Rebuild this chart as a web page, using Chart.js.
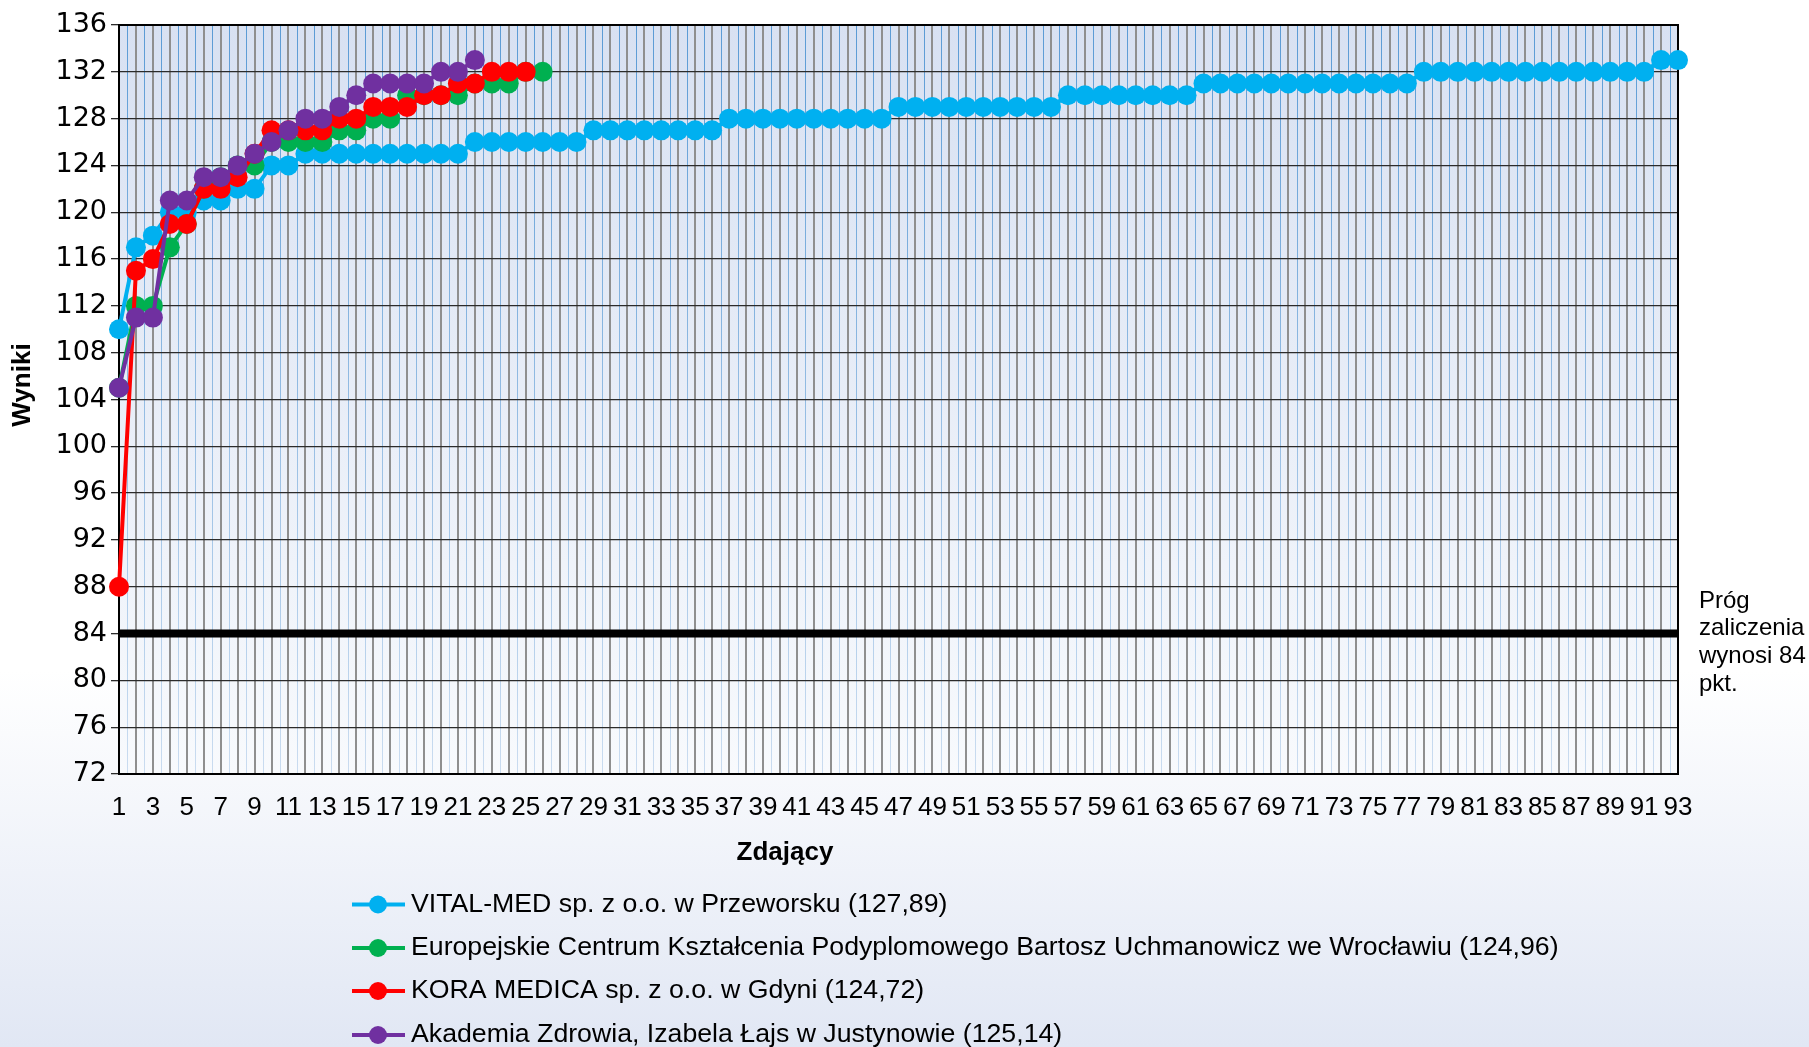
<!DOCTYPE html>
<html lang="pl">
<head>
<meta charset="utf-8">
<script src="https://cdn.jsdelivr.net/npm/chart.js@4.4.1/dist/chart.umd.min.js"></script>
<style>
  html, body { margin: 0; padding: 0; }
  body {
    width: 1809px;
    height: 1047px;
    overflow: hidden;
    background: linear-gradient(to bottom, #ffffff 0%, #ffffff 64%, #e1e7f4 100%);
  }
  canvas { display: block; }
</style>
</head>
<body>
<canvas id="chart" width="1809" height="1047"></canvas>
<script>
// numery zdających (oś X)
const zdajacy = [
  '1', '2', '3', '4', '5', '6', '7', '8', '9', '10',
  '11', '12', '13', '14', '15', '16', '17', '18', '19', '20',
  '21', '22', '23', '24', '25', '26', '27', '28', '29', '30',
  '31', '32', '33', '34', '35', '36', '37', '38', '39', '40',
  '41', '42', '43', '44', '45', '46', '47', '48', '49', '50',
  '51', '52', '53', '54', '55', '56', '57', '58', '59', '60',
  '61', '62', '63', '64', '65', '66', '67', '68', '69', '70',
  '71', '72', '73', '74', '75', '76', '77', '78', '79', '80',
  '81', '82', '83', '84', '85', '86', '87', '88', '89', '90',
  '91', '92', '93',
];

// wyniki poszczególnych ośrodków
const vitalMed = [
  110, 117, 118, 120, 120, 121, 121, 122, 122, 124,
  124, 125, 125, 125, 125, 125, 125, 125, 125, 125,
  125, 126, 126, 126, 126, 126, 126, 126, 127, 127,
  127, 127, 127, 127, 127, 127, 128, 128, 128, 128,
  128, 128, 128, 128, 128, 128, 129, 129, 129, 129,
  129, 129, 129, 129, 129, 129, 130, 130, 130, 130,
  130, 130, 130, 130, 131, 131, 131, 131, 131, 131,
  131, 131, 131, 131, 131, 131, 131, 132, 132, 132,
  132, 132, 132, 132, 132, 132, 132, 132, 132, 132,
  132, 133, 133,
];
const europejskie = [
  105, 112, 112, 117, 119, 122, 123, 124, 124, 126,
  126, 126, 126, 127, 127, 128, 128, 130, 130, 130,
  130, 131, 131, 131, 132, 132,
];
const koraMedica = [
  88, 115, 116, 119, 119, 122, 122, 123, 125, 127,
  127, 127, 127, 128, 128, 129, 129, 129, 130, 130,
  131, 131, 132, 132, 132,
];
const akademia = [
  105, 111, 111, 121, 121, 123, 123, 124, 125, 126,
  127, 128, 128, 129, 130, 131, 131, 131, 131, 132,
  132, 133,
];

const progZaliczenia = 84;
const yTicks = [72, 136, 4]; // min, max, krok

const font = '"Liberation Sans", Arial, sans-serif';

const dodatki = {
  id: 'dodatki',
  beforeDraw(chart) {
    const { ctx, chartArea: a, scales: { x } } = chart;
    ctx.save();
    const tlo = ctx.createLinearGradient(0, a.top, 0, a.bottom);
    tlo.addColorStop(0, '#d8e1f2');
    tlo.addColorStop(1, '#f8fafd');
    ctx.fillStyle = tlo;
    ctx.fillRect(a.left, a.top, a.width, a.height);

    // cienkie niebieskie linie między zdającymi
    const nieb = ctx.createLinearGradient(0, a.top, 0, a.bottom);
    nieb.addColorStop(0, '#5b9bd5');
    nieb.addColorStop(1, '#cadcf0');
    ctx.strokeStyle = nieb;
    ctx.lineWidth = 1;
    for (let i = 0; i < zdajacy.length - 1; i++) {
      const px = Math.round(x.getPixelForValue(i + 0.5)) + 0.5;
      ctx.beginPath();
      ctx.moveTo(px, a.top);
      ctx.lineTo(px, a.bottom);
      ctx.stroke();
    }
    ctx.restore();
  },
  beforeDatasetsDraw(chart) {
    const { ctx, chartArea: a } = chart;
    ctx.save();
    ctx.strokeStyle = '#000';
    ctx.lineWidth = 2;
    ctx.strokeRect(a.left, a.top, a.width, a.height);
    ctx.restore();
  },
  afterDraw(chart) {
    const { ctx } = chart;
    ctx.save();
    ctx.fillStyle = '#000';

    // tytuły osi
    ctx.font = 'bold 26px ' + font;
    ctx.textAlign = 'center';
    ctx.textBaseline = 'middle';
    ctx.fillText('Zdający', 785, 853);
    ctx.save();
    ctx.translate(23, 385);
    ctx.rotate(-Math.PI / 2);
    ctx.fillText('Wyniki', 0, 0);
    ctx.restore();

    // opis progu
    ctx.font = '24px ' + font;
    ctx.textAlign = 'left';
    ['Próg', 'zaliczenia', 'wynosi 84', 'pkt.'].forEach((t, i) => {
      ctx.fillText(t, 1699, 601 + i * 27.7);
    });

    // legenda
    ctx.font = '26.7px ' + font;
    const wiersze = [904.5, 948, 991, 1035];
    chart.data.datasets.filter(d => d.legenda !== false).forEach((ds, i) => {
      const y = wiersze[i];
      ctx.strokeStyle = ds.borderColor;
      ctx.lineWidth = 4;
      ctx.beginPath();
      ctx.moveTo(352, y);
      ctx.lineTo(405, y);
      ctx.stroke();
      ctx.fillStyle = ds.borderColor;
      ctx.beginPath();
      ctx.arc(378, y, 9, 0, Math.PI * 2);
      ctx.fill();
      ctx.fillStyle = '#000';
      ctx.fillText(ds.label, 411, y);
    });
    ctx.restore();
  },
};

const seria = (label, data, color, order) => ({
  label,
  data,
  borderColor: color,
  backgroundColor: color,
  borderWidth: 4,
  pointRadius: 10,
  pointBorderWidth: 0,
  pointHoverRadius: 10,
  order,
});

new Chart(document.querySelector('#chart').getContext('2d'), {
  type: 'line',
  data: {
    labels: zdajacy,
    datasets: [
      seria('VITAL-MED sp. z o.o. w Przeworsku (127,89)', vitalMed, '#00b0f0', 3),
      seria('Europejskie Centrum Kształcenia Podyplomowego Bartosz Uchmanowicz we Wrocławiu (124,96)', europejskie, '#00b050', 2),
      seria('KORA MEDICA sp. z o.o. w Gdyni (124,72)', koraMedica, '#ff0000', 1),
      seria('Akademia Zdrowia, Izabela Łajs w Justynowie (125,14)', akademia, '#7030a0', 0),
      {
        label: 'Próg zaliczenia',
        data: [
          { x: zdajacy[0], y: progZaliczenia },
          { x: zdajacy[zdajacy.length - 1], y: progZaliczenia },
        ],
        borderColor: '#000',
        borderWidth: 8,
        pointRadius: 0,
        order: 4,
        legenda: false,
      },
    ],
  },
  options: {
    responsive: false,
    animation: false,
    events: [],
    layout: { padding: { top: 25, right: 131, bottom: 0, left: 0 } },
    plugins: {
      legend: { display: false },
      tooltip: { enabled: false },
    },
    scales: {
      x: {
        grid: { color: '#8f8f8f', lineWidth: 2, drawTicks: false },
        border: { color: '#000', width: 2 },
        ticks: {
          autoSkip: false,
          maxRotation: 0,
          padding: 18,
          color: '#000',
          font: { family: font, size: 26 },
          callback: (v, i) => (i % 2 === 0 ? zdajacy[i] : ''),
        },
        afterFit: s => { s.height = 273; },
      },
      y: {
        min: yTicks[0],
        max: yTicks[1],
        ticks: {
          stepSize: yTicks[2],
          padding: 4,
          color: '#000',
          font: { family: '"DejaVu Sans", sans-serif', size: 27 },
        },
        grid: { color: '#2b2b2b', lineWidth: 1.3, tickLength: 8, tickColor: '#2b2b2b' },
        border: { color: '#000', width: 2 },
        afterFit: s => { s.width = 119; },
      },
    },
  },
  plugins: [dodatki],
});
</script>
</body>
</html>
